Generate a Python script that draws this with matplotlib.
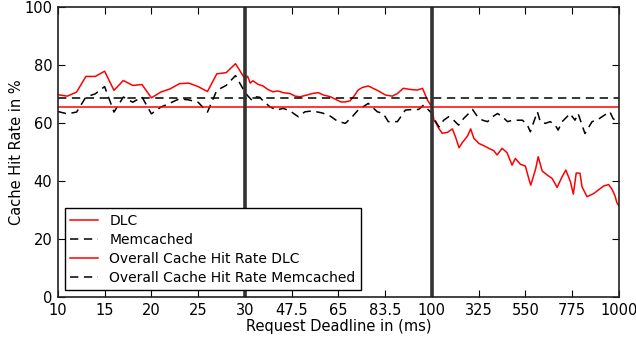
import matplotlib
matplotlib.use('Agg')
import matplotlib.pyplot as plt
import numpy as np

plt.rcParams['lines.scale_dashes'] = False

# request deadline (ms) and cache hit rate (%)
dlc_ms = [10, 11, 12, 13, 14, 15, 16, 17, 18, 19, 20, 21, 22, 23, 24, 25, 26, 27, 28, 29, 30,
          31, 32, 33, 34.9, 36.8, 38.6, 40.5, 42.4, 44.3, 46.9, 48.8, 50.7, 53.3, 55.2, 57.5, 59.4,
          62, 64, 66, 67.6, 69.4, 71, 72.4, 74, 76.2, 78, 80, 82.6, 85.2, 87.1, 89.3, 92, 94.6,
          96.5, 98.4, 100,
          105, 110, 120, 135, 150, 175, 199, 215, 231, 247, 271, 287, 302, 326, 350, 374, 398,
          414, 438, 462, 486, 502, 526, 550, 568, 576, 599, 612, 631, 655, 679, 703, 727, 745,
          767, 781, 795, 813, 823, 847, 879, 903, 927, 951, 967, 981, 991, 1000]
dlc_rate = [69.8, 69.3, 70.7, 76.1, 76.1, 77.9, 71.3, 74.7, 73.0, 73.3, 68.7, 70.7, 71.8, 73.6,
            73.8, 72.6, 70.9, 77.0, 77.4, 80.5, 75.3,
            76.2, 73.8, 74.6, 73.4, 72.8, 71.6, 70.8, 71.1, 70.5, 70.2, 69.3, 69.1, 69.7, 70.2,
            70.5, 69.7, 69.1, 68.2, 67.3, 67.3, 67.7, 69.5, 71.4, 72.3, 72.8, 72.0, 71.1, 69.7,
            69.3, 70.2, 72.0, 71.6, 71.4, 72.0, 67.9, 65.6,
            63.5, 61.0, 60.0, 58.0, 56.5, 56.8, 58.0, 55.0, 51.5, 53.3, 55.5, 58.0, 54.8, 53.0,
            52.2, 51.3, 50.5, 49.0, 51.3, 49.8, 45.5, 47.8, 45.8, 45.2, 40.5, 38.6, 44.0, 48.4,
            43.5, 42.1, 40.9, 37.8, 41.5, 43.8, 39.8, 35.5, 42.8, 42.7, 38.0, 34.6, 35.7, 37.0,
            38.3, 38.8, 37.2, 35.0, 32.5, 31.5]

mem_ms = [10, 11, 12, 13, 14, 15, 16, 17, 18, 19, 20, 21, 22, 23, 24, 25, 26, 27, 28, 29, 30,
          31, 32.6, 33.8, 35.6, 36.8, 39.4, 42, 44.3, 46.9, 50, 52.5, 55.2, 59, 62, 64.6, 67.6,
          70.2, 72.4, 76.2, 79.6, 81.8, 83.7, 87.1, 90.1, 92.7, 95, 96.9, 98.8, 100,
          110, 134, 157, 181, 205, 229, 253, 277, 296, 320, 344, 368, 392, 416, 440, 464, 488,
          512, 536, 560, 574, 588, 608, 622, 646, 670, 694, 708, 727, 751, 765, 789, 804, 823,
          837, 852, 871, 895, 919, 943, 957, 972, 990, 1000]
mem_rate = [64.0, 63.2, 63.8, 69.0, 70.1, 72.6, 63.8, 69.0, 67.2, 69.0, 63.2, 65.5, 66.9, 68.4,
            68.0, 67.2, 63.8, 71.3, 73.0, 76.4, 70.7,
            69.5, 67.9, 69.1, 68.9, 67.7, 65.6, 64.5, 65.1, 64.2, 62.2, 63.9, 64.2, 63.5, 62.4,
            60.7, 59.9, 62.2, 64.5, 66.8, 63.9, 63.3, 60.5, 60.5, 64.5, 64.7, 64.7, 66.2, 64.5,
            63.3,
            61.6, 58.7, 61.0, 62.2, 61.0, 59.3, 61.6, 63.3, 64.7, 62.2, 61.0, 60.5, 62.2, 63.3,
            62.2, 60.5, 61.0, 61.0, 61.0, 59.3, 57.0, 59.9, 63.9, 60.5, 59.9, 60.5, 59.3, 57.6,
            60.5, 62.2, 63.3, 61.0, 63.3, 59.3, 56.4, 58.2, 60.5, 61.0, 62.2, 63.3, 63.9, 61.6,
            60.5, 60.5]

overall_dlc = 65.6
overall_mem = 68.8

tick_vals = [10, 15, 20, 25, 30, 47.5, 65, 82.5, 100, 325, 550, 775, 1000]
tick_labels = ['10', '15', '20', '25', '30', '47.5', '65', '83.5', '100', '325', '550', '775', '1000']
breaks = [10, 30, 100, 1000]
segs = [0, 4, 8, 12]


def forward(x):
    return np.interp(x, breaks, segs)


def inverse(p):
    return np.interp(p, segs, breaks)


fig = plt.figure(figsize=(6.36, 3.41), dpi=100)
ax = fig.add_axes([0.091, 0.129, 0.882, 0.850])
ax.set_xscale('function', functions=(forward, inverse))

ax.plot(dlc_ms, dlc_rate, color='red', lw=1.1, label='DLC')
ax.plot(mem_ms, mem_rate, color='black', lw=1.1, dashes=(6, 4), label='Memcached')
ax.axhline(overall_dlc, color='red', lw=1.1, label='Overall Cache Hit Rate DLC')
ax.axhline(overall_mem, color='black', lw=1.1, dashes=(6, 4),
           label='Overall Cache Hit Rate Memcached')
for b in breaks[1:3]:
    ax.axvline(b, color='#333333', lw=2.6)

ax.set_xlim(10, 1000)
ax.set_ylim(0, 100)
ax.set_xticks(tick_vals)
ax.set_xticklabels(tick_labels)
ax.set_yticks([0, 20, 40, 60, 80, 100])
ax.minorticks_off()
ax.tick_params(direction='in', top=True, right=True, length=5, labelsize=10.5, pad=4)
for s in ax.spines.values():
    s.set_color('#222222')
    s.set_linewidth(1.2)

ax.set_xlabel('Request Deadline in (ms)', fontsize=10.5, labelpad=1)
ax.set_ylabel('Cache Hit Rate in %', fontsize=10.5, labelpad=0)

leg = ax.legend(loc='lower left', fontsize=10, frameon=True, fancybox=False,
                handlelength=2.0, borderaxespad=0.5, labelspacing=0.35,
                bbox_to_anchor=(0.0, 0.0))
leg.get_frame().set_edgecolor('black')
leg.get_frame().set_linewidth(1.0)
leg.get_frame().set_alpha(1)

fig.savefig('out.png', dpi=100)
